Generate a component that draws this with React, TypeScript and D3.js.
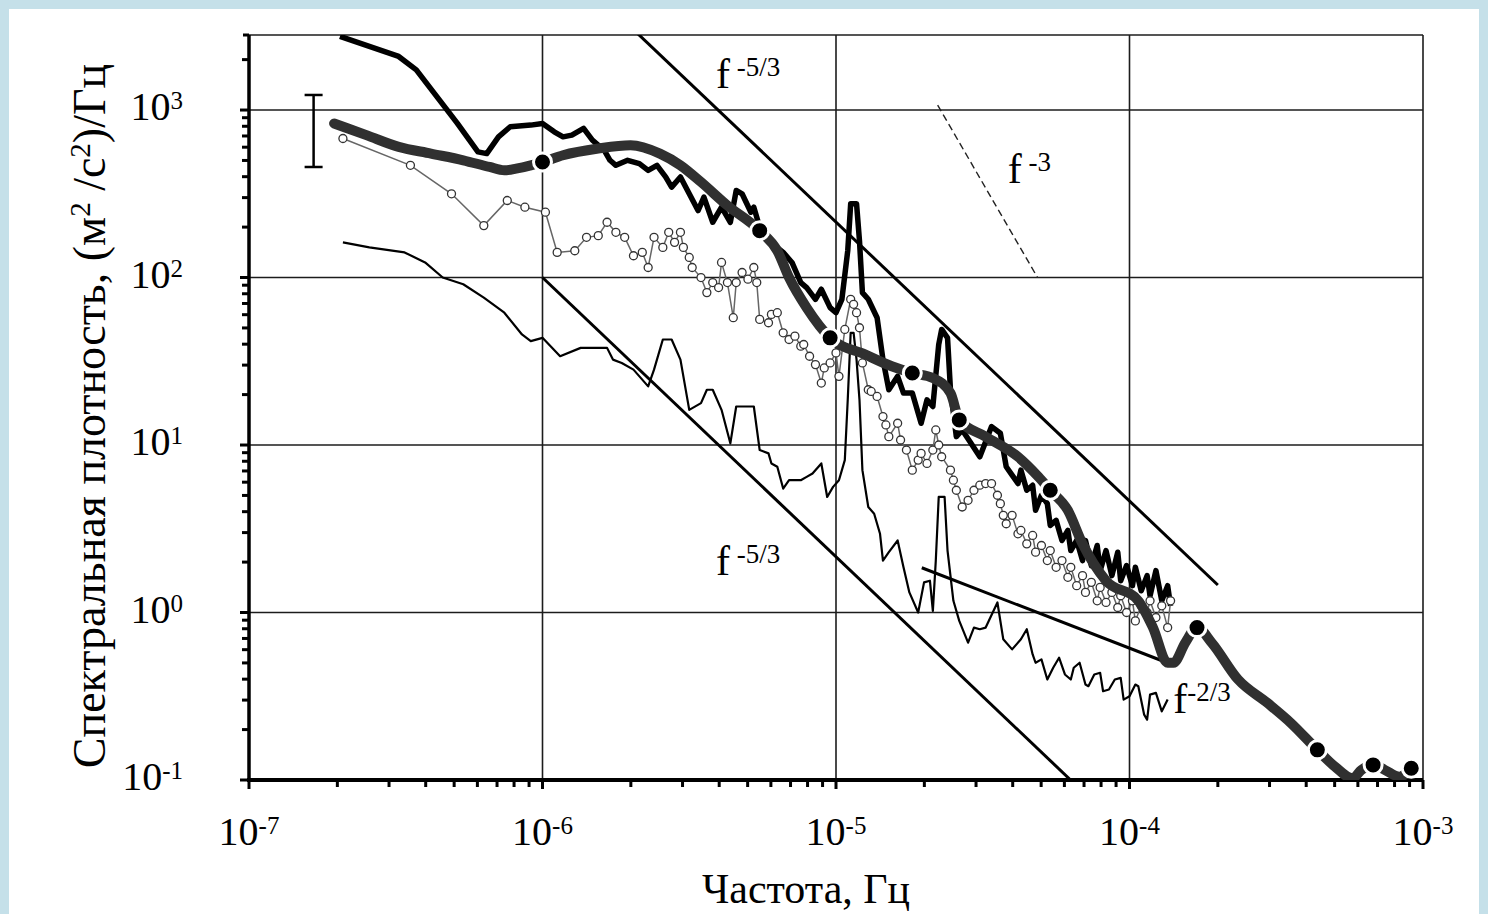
import { useEffect, useRef } from "react";
import * as d3 from "d3";

// all spectra stored as [lg f (Гц), lg S ((м²/с²)/Гц)]
type LgPt = [number, number];

// thick black raw spectrum
const THICK_SPECTRUM: LgPt[] = [
  [-6.69, 3.44], [-6.59, 3.38], [-6.49, 3.32], [-6.43, 3.24], [-6.36, 3.08], [-6.29, 2.92], [-6.22, 2.75],
  [-6.19, 2.74], [-6.15, 2.84], [-6.11, 2.9], [-6.04, 2.91], [-6.0, 2.92], [-5.96, 2.87], [-5.93, 2.84],
  [-5.9, 2.85], [-5.86, 2.89], [-5.83, 2.82], [-5.79, 2.76], [-5.77, 2.7], [-5.75, 2.67], [-5.71, 2.7],
  [-5.67, 2.68], [-5.64, 2.64], [-5.61, 2.67], [-5.58, 2.6], [-5.56, 2.54], [-5.53, 2.6], [-5.5, 2.5],
  [-5.47, 2.4], [-5.45, 2.48], [-5.42, 2.33], [-5.39, 2.42], [-5.36, 2.33], [-5.34, 2.52], [-5.32, 2.5],
  [-5.29, 2.39], [-5.28, 2.42], [-5.26, 2.3], [-5.23, 2.22], [-5.18, 2.15], [-5.15, 2.09], [-5.12, 1.97],
  [-5.1, 1.94], [-5.07, 1.87], [-5.05, 1.93], [-5.02, 1.82], [-5.0, 1.79], [-4.98, 1.87], [-4.96, 2.16],
  [-4.95, 2.44], [-4.93, 2.44], [-4.92, 2.22], [-4.91, 1.91], [-4.89, 1.87], [-4.86, 1.76], [-4.84, 1.51],
  [-4.82, 1.33], [-4.79, 1.41], [-4.77, 1.31], [-4.74, 1.31], [-4.71, 1.13], [-4.69, 1.27], [-4.67, 1.23],
  [-4.65, 1.6], [-4.64, 1.69], [-4.62, 1.64], [-4.61, 1.33], [-4.59, 1.05], [-4.57, 1.09], [-4.54, 1.01],
  [-4.51, 0.93], [-4.47, 1.11], [-4.44, 1.07], [-4.42, 0.87], [-4.4, 0.82], [-4.38, 0.77], [-4.37, 0.85],
  [-4.35, 0.73], [-4.33, 0.76], [-4.32, 0.61], [-4.3, 0.7], [-4.28, 0.65], [-4.27, 0.52], [-4.25, 0.55],
  [-4.23, 0.43], [-4.21, 0.49], [-4.2, 0.37], [-4.18, 0.43], [-4.16, 0.31], [-4.15, 0.43], [-4.13, 0.28],
  [-4.11, 0.4], [-4.1, 0.25], [-4.08, 0.37], [-4.06, 0.22], [-4.04, 0.36], [-4.03, 0.19], [-4.01, 0.28],
  [-3.99, 0.16], [-3.98, 0.27], [-3.96, 0.13], [-3.94, 0.22], [-3.93, 0.1], [-3.91, 0.25], [-3.89, 0.07],
  [-3.87, 0.16], [-3.86, 0.04],
];

// thick grey averaged spectrum
const MEAN_SPECTRUM: LgPt[] = [
  [-6.71, 2.92], [-6.6, 2.85], [-6.49, 2.78], [-6.38, 2.74], [-6.27, 2.7], [-6.18, 2.66], [-6.13, 2.64],
  [-6.09, 2.65], [-6.04, 2.67], [-6.0, 2.69], [-5.93, 2.73], [-5.81, 2.77], [-5.7, 2.79], [-5.6, 2.74],
  [-5.53, 2.67], [-5.46, 2.57], [-5.37, 2.43], [-5.26, 2.28], [-5.2, 2.16], [-5.16, 2.0], [-5.1, 1.82],
  [-5.02, 1.64], [-4.9, 1.54], [-4.81, 1.47], [-4.74, 1.43], [-4.67, 1.4], [-4.61, 1.31], [-4.58, 1.15],
  [-4.49, 1.05], [-4.38, 0.93], [-4.31, 0.81], [-4.27, 0.73], [-4.21, 0.61], [-4.16, 0.41], [-4.08, 0.19],
  [-3.97, 0.07], [-3.92, -0.09], [-3.87, -0.3], [-3.85, -0.3], [-3.81, -0.18], [-3.77, -0.09], [-3.72, -0.18],
  [-3.63, -0.4], [-3.53, -0.54], [-3.45, -0.66], [-3.36, -0.82], [-3.3, -0.92], [-3.24, -0.99], [-3.21, -0.94],
  [-3.17, -0.91], [-3.13, -0.94], [-3.08, -0.98], [-3.04, -0.93],
];

const MEAN_MARKERS: LgPt[] = [
  [-6.0, 2.69], [-5.26, 2.28], [-5.02, 1.64], [-4.74, 1.43], [-4.58, 1.15], [-4.27, 0.73],
  [-3.77, -0.09], [-3.36, -0.82], [-3.17, -0.91], [-3.04, -0.93],
];

// thin grey line with open circles
const CIRCLE_SPECTRUM: LgPt[] = [
  [-6.68, 2.83], [-6.45, 2.67], [-6.31, 2.5], [-6.2, 2.31], [-6.12, 2.46], [-6.06, 2.42], [-5.99, 2.39],
  [-5.95, 2.15], [-5.89, 2.16], [-5.85, 2.24], [-5.81, 2.25], [-5.78, 2.33], [-5.75, 2.27], [-5.72, 2.24],
  [-5.69, 2.13], [-5.66, 2.15], [-5.64, 2.06], [-5.62, 2.24], [-5.59, 2.18], [-5.57, 2.27], [-5.55, 2.21],
  [-5.53, 2.27], [-5.52, 2.18], [-5.5, 2.12], [-5.49, 2.06], [-5.46, 2.0], [-5.44, 1.91], [-5.42, 1.97],
  [-5.4, 1.94], [-5.39, 2.09], [-5.37, 1.97], [-5.35, 1.76], [-5.34, 1.97], [-5.32, 2.03], [-5.3, 1.99],
  [-5.28, 2.06], [-5.27, 1.97], [-5.26, 1.75], [-5.23, 1.73], [-5.22, 1.78], [-5.2, 1.79], [-5.18, 1.67],
  [-5.16, 1.63], [-5.14, 1.65], [-5.12, 1.59], [-5.11, 1.6], [-5.09, 1.53], [-5.07, 1.48], [-5.05, 1.37],
  [-5.04, 1.46], [-5.02, 1.49], [-5.0, 1.55], [-4.99, 1.41], [-4.97, 1.69], [-4.95, 1.87], [-4.94, 1.84],
  [-4.93, 1.79], [-4.92, 1.7], [-4.91, 1.49], [-4.89, 1.33], [-4.88, 1.32], [-4.86, 1.29], [-4.84, 1.17],
  [-4.83, 1.12], [-4.82, 1.05], [-4.79, 1.13], [-4.78, 1.03], [-4.76, 0.97], [-4.74, 0.85], [-4.72, 0.91],
  [-4.71, 0.95], [-4.69, 0.89], [-4.67, 0.97], [-4.66, 1.09], [-4.65, 1.0], [-4.64, 0.93], [-4.61, 0.85],
  [-4.6, 0.79], [-4.59, 0.73], [-4.57, 0.63], [-4.55, 0.67], [-4.53, 0.73], [-4.51, 0.76], [-4.49, 0.77],
  [-4.47, 0.77], [-4.45, 0.7], [-4.44, 0.65], [-4.43, 0.58], [-4.42, 0.53], [-4.4, 0.58], [-4.38, 0.47],
  [-4.37, 0.49], [-4.35, 0.41], [-4.33, 0.46], [-4.32, 0.36], [-4.3, 0.4], [-4.28, 0.31], [-4.27, 0.37],
  [-4.25, 0.27], [-4.23, 0.31], [-4.21, 0.21], [-4.2, 0.27], [-4.18, 0.16], [-4.16, 0.22], [-4.15, 0.12],
  [-4.13, 0.18], [-4.11, 0.07], [-4.1, 0.15], [-4.08, 0.06], [-4.06, 0.12], [-4.04, 0.03], [-4.03, 0.1],
  [-4.01, 0.0], [-3.99, 0.07], [-3.98, -0.05], [-3.96, 0.04], [-3.94, 0.0], [-3.93, 0.07], [-3.91, -0.03],
  [-3.89, 0.04], [-3.87, -0.09], [-3.86, 0.07],
];

// thin black lower spectrum
const THIN_SPECTRUM: LgPt[] = [
  [-6.68, 2.21], [-6.59, 2.18], [-6.47, 2.15], [-6.4, 2.09], [-6.34, 2.0], [-6.27, 1.96], [-6.2, 1.88],
  [-6.13, 1.79], [-6.07, 1.66], [-6.04, 1.62], [-6.0, 1.64], [-5.94, 1.53], [-5.87, 1.58], [-5.8, 1.58],
  [-5.78, 1.58], [-5.76, 1.51], [-5.73, 1.49], [-5.69, 1.45], [-5.64, 1.35], [-5.62, 1.45], [-5.59, 1.63],
  [-5.56, 1.63], [-5.53, 1.51], [-5.5, 1.21], [-5.46, 1.25], [-5.44, 1.33], [-5.42, 1.33], [-5.39, 1.21],
  [-5.36, 1.01], [-5.34, 1.23], [-5.32, 1.23], [-5.28, 1.23], [-5.26, 0.97], [-5.23, 0.95], [-5.22, 0.89],
  [-5.2, 0.87], [-5.18, 0.74], [-5.16, 0.79], [-5.12, 0.79], [-5.1, 0.81], [-5.08, 0.83], [-5.05, 0.89],
  [-5.03, 0.69], [-5.01, 0.75], [-4.99, 0.79], [-4.97, 0.91], [-4.96, 1.27], [-4.95, 1.67], [-4.94, 1.67],
  [-4.93, 1.51], [-4.92, 1.27], [-4.91, 0.85], [-4.89, 0.63], [-4.87, 0.59], [-4.85, 0.47], [-4.84, 0.31],
  [-4.82, 0.36], [-4.79, 0.43], [-4.77, 0.27], [-4.75, 0.12], [-4.72, 0.0], [-4.7, 0.18], [-4.68, 0.19],
  [-4.67, 0.01], [-4.66, 0.31], [-4.65, 0.69], [-4.63, 0.69], [-4.62, 0.37], [-4.6, 0.07], [-4.58, -0.05],
  [-4.55, -0.18], [-4.53, -0.09], [-4.51, -0.1], [-4.49, -0.09], [-4.45, 0.06], [-4.43, -0.16], [-4.4, -0.22],
  [-4.37, -0.16], [-4.35, -0.1], [-4.33, -0.25], [-4.32, -0.3], [-4.3, -0.28], [-4.28, -0.4], [-4.26, -0.33],
  [-4.24, -0.27], [-4.22, -0.37], [-4.2, -0.4], [-4.19, -0.33], [-4.17, -0.3], [-4.15, -0.43], [-4.14, -0.44],
  [-4.12, -0.37], [-4.1, -0.36], [-4.09, -0.47], [-4.07, -0.46], [-4.05, -0.4], [-4.03, -0.39], [-4.02, -0.52],
  [-4.0, -0.5], [-3.98, -0.43], [-3.97, -0.44], [-3.95, -0.61], [-3.94, -0.64], [-3.93, -0.49], [-3.91, -0.48],
  [-3.89, -0.59], [-3.87, -0.52],
];

// reference power-law segments, [f, S]
const REF_UPPER_53: [number, number][] = [[2.05e-6, 3000], [2.0e-4, 1.46]];
const REF_LOWER_53: [number, number][] = [[1.0e-6, 100], [6.3e-5, 0.1]];
const REF_3: [number, number][] = [[2.22e-5, 1070], [4.86e-5, 100]];
const REF_23: [number, number][] = [[1.96e-5, 1.85], [1.31e-4, 0.51]];

// confidence interval bar
const ERROR_BAR = { f: 1.66e-7, lo: 457, hi: 1230 };

// annotation anchors (baseline of the "f")
const LABELS = [
  { f: 3.9e-6, s: 1350, sup: " -5/3" },
  { f: 3.9e-6, s: 1.67, sup: " -5/3" },
  { f: 3.85e-5, s: 366, sup: " -3" },
  { f: 1.41e-4, s: 0.25, sup: "-2/3" },
];

const X_DECADES = [-7, -6, -5, -4, -3];
const Y_DECADES = [-1, 0, 1, 2, 3];

const FONT = "'Liberation Serif', 'Times New Roman', serif";

export default function App() {
  const svgRef = useRef<SVGSVGElement | null>(null);

  useEffect(() => {
    if (!svgRef.current) return;
    const W = 1488, H = 914;
    const X0 = 249, X1 = 1423, Y0 = 35, Y1 = 780;

    const svg = d3.select(svgRef.current);
    svg.selectAll("*").remove();

    const x = d3.scaleLog().domain([1e-7, 1e-3]).range([X0, X1]);
    const y = d3.scaleLog().domain([0.1, 10 ** 3.448]).range([Y1, Y0]);
    const lg = (d: LgPt): [number, number] => [x(10 ** d[0]), y(10 ** d[1])];

    svg.append("rect").attr("width", W).attr("height", H).attr("fill", "#c5e0e9");
    svg.append("rect").attr("x", 9).attr("y", 9).attr("width", 1470).attr("height", H).attr("fill", "#fff");

    svg.append("defs").append("clipPath").attr("id", "plot")
      .append("rect").attr("x", X0).attr("y", Y0).attr("width", X1 - X0).attr("height", Y1 - Y0);

    // grid
    const grid = svg.append("g").attr("stroke", "#1c1c1c").attr("stroke-width", 1.6);
    X_DECADES.slice(1).forEach((e) => {
      grid.append("line").attr("x1", x(10 ** e)).attr("x2", x(10 ** e)).attr("y1", Y0).attr("y2", Y1);
    });
    Y_DECADES.slice(1).forEach((e) => {
      grid.append("line").attr("x1", X0).attr("x2", X1).attr("y1", y(10 ** e)).attr("y2", y(10 ** e));
    });
    grid.append("line").attr("x1", X0).attr("x2", X1).attr("y1", Y0).attr("y2", Y0);

    // ticks
    const ticks = svg.append("g").attr("stroke", "#000").attr("stroke-width", 3);
    for (let e = -7; e < -3; e++) {
      for (let k = 1; k <= 9; k++) {
        const v = k * 10 ** e;
        const tx = x(v);
        ticks.append("line").attr("x1", tx).attr("x2", tx).attr("y1", Y1).attr("y2", Y1 + (k === 1 ? 9 : 7));
      }
    }
    ticks.append("line").attr("x1", X1).attr("x2", X1).attr("y1", Y1).attr("y2", Y1 + 9);
    for (let e = -1; e <= 3; e++) {
      for (let k = 1; k <= 9; k++) {
        const v = k * 10 ** e;
        if (v > 10 ** 3.448) continue;
        const ty = y(v);
        ticks.append("line").attr("y1", ty).attr("y2", ty).attr("x1", X0).attr("x2", X0 - (k === 1 ? 9 : 7));
      }
    }
    ticks.append("line").attr("y1", Y0).attr("y2", Y0).attr("x1", X0).attr("x2", X0 - 6);

    // axes
    svg.append("line").attr("x1", X0).attr("x2", X0).attr("y1", Y0).attr("y2", Y1 + 2)
      .attr("stroke", "#000").attr("stroke-width", 3.5);
    svg.append("line").attr("x1", X0 - 2).attr("x2", X1).attr("y1", Y1).attr("y2", Y1)
      .attr("stroke", "#000").attr("stroke-width", 4);

    const plot = svg.append("g").attr("clip-path", "url(#plot)");
    const line = d3.line<LgPt>().x((d) => lg(d)[0]).y((d) => lg(d)[1]);
    const refLine = d3.line<[number, number]>().x((d) => x(d[0])).y((d) => y(d[1]));

    // reference slopes
    [REF_UPPER_53, REF_LOWER_53, REF_23].forEach((seg) => {
      plot.append("path").attr("d", refLine(seg)).attr("fill", "none")
        .attr("stroke", "#000").attr("stroke-width", 3);
    });
    plot.append("path").attr("d", refLine(REF_3)).attr("fill", "none")
      .attr("stroke", "#222").attr("stroke-width", 1.4).attr("stroke-dasharray", "7,4");

    // thick black spectrum
    plot.append("path").attr("d", line(THICK_SPECTRUM)).attr("fill", "none")
      .attr("stroke", "#000").attr("stroke-width", 5.5).attr("stroke-linejoin", "round");

    // open-circle spectrum
    plot.append("path").attr("d", line(CIRCLE_SPECTRUM)).attr("fill", "none")
      .attr("stroke", "#666").attr("stroke-width", 1.5);
    plot.append("g").selectAll("circle").data(CIRCLE_SPECTRUM).join("circle")
      .attr("cx", (d) => lg(d)[0]).attr("cy", (d) => lg(d)[1]).attr("r", 4)
      .attr("fill", "#fff").attr("stroke", "#333").attr("stroke-width", 1.3);

    // thin black spectrum
    plot.append("path").attr("d", line(THIN_SPECTRUM)).attr("fill", "none")
      .attr("stroke", "#000").attr("stroke-width", 2.2).attr("stroke-linejoin", "round");

    // mean spectrum
    plot.append("path").attr("d", line.curve(d3.curveMonotoneX)(MEAN_SPECTRUM)).attr("fill", "none")
      .attr("stroke", "#303030").attr("stroke-width", 10).attr("stroke-linejoin", "round")
      .attr("stroke-linecap", "round");
    line.curve(d3.curveLinear);
    svg.append("g").selectAll("circle").data(MEAN_MARKERS).join("circle")
      .attr("cx", (d) => lg(d)[0]).attr("cy", (d) => lg(d)[1]).attr("r", 9)
      .attr("fill", "#000").attr("stroke", "#fff").attr("stroke-width", 3);

    // error bar
    const ex = x(ERROR_BAR.f);
    const eb = svg.append("g").attr("stroke", "#000").attr("stroke-width", 2.5);
    eb.append("line").attr("x1", ex).attr("x2", ex).attr("y1", y(ERROR_BAR.lo)).attr("y2", y(ERROR_BAR.hi));
    [ERROR_BAR.lo, ERROR_BAR.hi].forEach((v) => {
      eb.append("line").attr("x1", ex - 9).attr("x2", ex + 9).attr("y1", y(v)).attr("y2", y(v));
    });

    // slope labels
    LABELS.forEach((l) => {
      const t = svg.append("text").attr("x", x(l.f)).attr("y", y(l.s))
        .attr("font-family", FONT).attr("font-size", 42).attr("fill", "#000");
      t.append("tspan").text("f");
      t.append("tspan").attr("dy", -12).attr("font-size", 27).text(l.sup);
    });

    // tick labels
    X_DECADES.forEach((e) => {
      const t = svg.append("text").attr("x", x(10 ** e)).attr("y", 845).attr("text-anchor", "middle")
        .attr("font-family", FONT).attr("font-size", 40).attr("fill", "#000");
      t.append("tspan").text("10");
      t.append("tspan").attr("dy", -11).attr("font-size", 25).text(String(e));
    });
    Y_DECADES.forEach((e) => {
      const t = svg.append("text").attr("x", 183).attr("y", y(10 ** e) + 10).attr("text-anchor", "end")
        .attr("font-family", FONT).attr("font-size", 40).attr("fill", "#000");
      t.append("tspan").text("10");
      t.append("tspan").attr("dy", -11).attr("font-size", 25).text(String(e));
    });

    // axis titles
    svg.append("text").attr("x", 806).attr("y", 903).attr("text-anchor", "middle")
      .attr("font-family", FONT).attr("font-size", 42).attr("fill", "#000").text("Частота, Гц");

    const yt = svg.append("text").attr("transform", "translate(105,416) rotate(-90)")
      .attr("text-anchor", "middle").attr("font-family", FONT).attr("font-size", 46).attr("fill", "#000");
    yt.append("tspan").text("Спектральная плотность, (м");
    yt.append("tspan").attr("dy", -15).attr("font-size", 29).text("2");
    yt.append("tspan").attr("dy", 15).text(" /с");
    yt.append("tspan").attr("dy", -15).attr("font-size", 29).text("2");
    yt.append("tspan").attr("dy", 15).text(")/Гц");
  }, []);

  return (
    <div style={{ position: "absolute", left: 0, top: 0 }}>
      <svg ref={svgRef} width={1488} height={914} style={{ display: "block" }} />
    </div>
  );
}
